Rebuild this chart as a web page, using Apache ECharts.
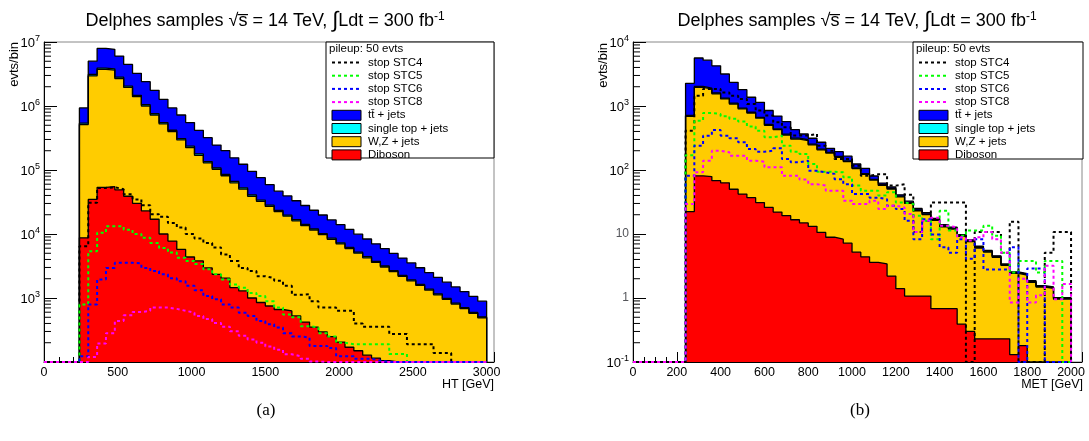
<!DOCTYPE html>
<html><head><meta charset="utf-8">
<script src="https://cdn.jsdelivr.net/npm/echarts@6/dist/echarts.min.js"></script>
<style>html,body{margin:0;padding:0;background:#fff}#c{width:1089px;height:441px}</style>
</head><body><div id="c"></div>
<script>
// ---------- DATA ----------
const htBinWidth = 60;   // GeV, 50 bins 0-3000
const metBinWidth = 40;  // GeV, 50 bins 0-2000

// HT panel (a)
const htDiboson = [0,0,0,0,8700,34700,53700,55000,49000,38900,30200,22900,17000,10000,7760,5750,4370,3800,2950,2340,2040,1450,1290,1000,851,750,661,627,525,420,350,295,250,205,170,150,128,115,105,0,0,0,0,0,0,0,0,0,0,0];
const htWZ = [0,0,0,0,504000,2920000,3670000,3580000,2640000,1910000,1370000,977000,707000,515000,390000,289000,220000,166000,126000,100000,79300,61600,48800,37900,31500,26200,21700,18340,15550,13160,11160,9455,8010,6795,5760,4860,4122,3485,2945,2580,2180,1850,1570,1330,1120,950,805,682,578,490];
const htSingleTop = [0,0,0,0,26000,150000,190000,180000,135000,98000,70000,50000,36000,26000,20000,15000,11000,8500,6400,5100,4000,3200,2500,1900,1600,1300,1100,760,640,540,460,390,330,280,230,195,165,140,115,95,80,65,55,45,38,32,26,22,18,15];
const htTtbar = [0,0,0,0,394000,1910000,4030000,3880000,3200000,2420000,1770000,1350000,1000000,720000,515000,414000,315000,238000,185000,138000,115000,88700,70400,54700,41900,30700,23300,19670,16390,13780,11530,9660,8010,6720,5640,4725,3945,3290,2755,2305,1940,1615,1345,1125,942,788,659,556,464,386];
const htSTC4 = [0,0,0,0,6460,30900,52500,53700,50100,41700,34700,28200,20400,18600,14800,12600,10000,8510,7240,6170,4790,3800,2950,2630,2190,2040,1860,1550,1120,1150,891,708,708,631,631,398,355,355,355,275,275,190,190,190,138,138,0,0,0,0];
const htSTC5 = [0,0,0,0,794,5370,10500,13200,13200,11700,10000,8710,7240,6030,5130,4270,3800,3390,2820,2340,1950,1620,1450,1200,1070,891,708,550,501,363,347,282,251,200,190,190,190,190,190,133,133,0,0,0,0,0,0,0,0,0];
const htSTC6 = [0,0,0,0,123,794,1950,2950,3550,3550,3470,2950,2630,2340,2040,1820,1550,1320,1070,955,794,708,589,525,437,389,347,282,251,240,178,178,165,123,123,112,112,105,0,0,0,0,0,0,0,0,0,0,0,0];
const htSTC8 = [0,0,0,0,0,120,195,282,437,537,603,631,708,708,676,631,589,525,468,407,355,302,257,224,200,174,155,132,123,112,102,0,0,0,0,0,0,0,0,0,0,0,0,0,0,0,0,0,0,0];

// MET panel (b)
const metDiboson = [0,0,0,0,0,0,22.4,81,79,68,63,50,42,37,31,26,22,19.3,16.7,14.9,13.2,10.6,8.9,8.3,7.2,5.2,4.4,3.6,3.4,2.2,1.4,1.07,1.07,1.07,0.68,0.68,0.68,0.39,0.30,0.23,0.23,0.23,0.23,0.13,0.18,0,0,0,0,0];
const metWZ = [0,0,0,0,0,0,668,1879,1771,1482,1227,1025,858,738,614,474,405,333,288,273,233,196,175,150,128,100,81,66,54,48,36.6,29,22,19,15.6,12.3,11.3,8.8,7.3,5.8,5.0,4.1,3.0,2.3,2.1,1.76,1.48,1.42,0.96,0.96];
const metSingleTop = [0,0,0,0,0,0,20,60,55,45,38,32,27,23,19,15,13,11,9,9,7,6,5,5,4,3,2.5,2,1.7,1.5,1.1,0.9,0.7,0.6,0.5,0.4,0.35,0.28,0.23,0.18,0.16,0.13,0.1,0.07,0.07,0.05,0.04,0.04,0.03,0.03];
const metTtbar = [0,0,0,0,0,0,1550,3600,3295,2655,1832,1233,873,572,476,335,255,207,113,68,60,59,29,30,25,16,18.5,9,3.3,2.5,1.9,1.6,1.3,0.9,0.7,0.6,0.45,0.32,0.27,0.22,0.14,0.1,0.08,0.06,0.06,0.05,0.04,0.03,0.02,0.02];
const metSTC4 = [0,0,0,0,0,0,410,1450,1850,1850,1630,1450,1290,1075,850,710,555,465,345,345,365,240,200,148,148,117,81,86,86,57,60,41,10.7,16,31,31,31,31,0,10.7,10.7,10.7,5.1,15.6,0,0,0,5.1,10.7,10.7];
const metSTC5 = [0,0,0,0,0,0,170,590,776,750,690,630,570,480,410,325,344,240,193,178,124,94,94,92,77,57,47.5,47.5,40,45,31,29.5,19.3,16.1,8.3,23,11.3,9.4,11.3,11.3,13.5,9.4,5.1,2.5,3.8,3.8,2.5,3.8,3.8,0];
const metSTC6 = [0,0,0,0,0,0,81,240,344,422,344,313,271,213,193,200,218,148,132,140,97,92,87,72,60,42,42,37,35,27.7,24.5,16.1,8.3,17,9.8,6.2,5.1,8.3,4.1,8.3,2.8,2.8,2.8,6.2,0,2.9,2.9,0,0,0];
const metSTC8 = [0,0,0,0,0,0,29.5,92,140,200,189,167,167,140,135,110,110,81,81,71,60,57,47.5,47.5,33,29.5,29.5,33,24.5,27.7,26,20.5,10.7,16.1,18,13.5,12.7,8.9,7.9,8.9,10.7,8.3,5.1,0.85,2.0,0.85,1.1,3.2,0.96,1.66];

const stackNames = ['tt\u0304 + jets', 'single top + jets', 'W,Z + jets', 'Diboson'];
const stackColors = ['#0000ff', '#00ffff', '#ffcc00', '#ff0000'];
const sigNames = ['stop STC4', 'stop STC5', 'stop STC6', 'stop STC8'];
const sigColors = ['#000000', '#00ff00', '#0000ff', '#ff00ff'];

// ---------- BUILD ----------
const FONT = '"Liberation Sans", Arial, sans-serif';
function edges(n, w) { return Array.from({length: n + 1}, (_, i) => i * w); }
function cumul(layers) { // bottom -> top
  let run = layers[0].map(() => 0); const out = [];
  layers.forEach(l => { run = run.map((v, i) => v + l[i]); out.push(run.slice()); });
  return out;
}
function stepData(ed, vals, ymin) {
  const n = vals.length;
  const d = vals.map((v, i) => [ed[i], Math.max(v, ymin)]);
  d.push([ed[n], Math.max(vals[n - 1], ymin)]);
  d.push([ed[n], ymin]);
  return d;
}
function panelSeries(idx, ed, comps, sigs, ymin, ymax, xmin) {
  const cum = cumul(comps); // cum[0]=diboson ... cum[3]=total
  const series = [];
  const colorByCum = ['#ff0000', '#ffcc00', '#00ffff', '#0000ff'];
  [3, 2, 1, 0].forEach(k => {
    series.push({
      type: 'line', xAxisIndex: idx, yAxisIndex: idx, step: 'end', symbol: 'none',
      data: stepData(ed, cum[k], ymin), clip: true, silent: true,
      lineStyle: {color: '#000', width: 1.3},
      areaStyle: {color: colorByCum[k], opacity: 1, origin: 'start'}
    });
  });
  sigs.forEach((s, j) => {
    series.push({
      type: 'line', xAxisIndex: idx, yAxisIndex: idx, step: 'end', symbol: 'none',
      data: stepData(ed, s, ymin), clip: true, silent: true, z: 3,
      lineStyle: {color: sigColors[j], width: 2, type: [3, 3]}
    });
  });
  const minor = [];
  for (let d = Math.round(Math.log10(ymin)); d < Math.round(Math.log10(ymax)); d++)
    for (let m = 2; m <= 9; m++) minor.push([xmin, m * Math.pow(10, d)]);
  series.push({
    type: 'custom', xAxisIndex: idx, yAxisIndex: idx, silent: true, z: 5,
    data: minor, encode: {x: 0, y: 1},
    renderItem: (p, api) => {
      const c = api.coord([api.value(0), api.value(1)]);
      return {type: 'line', shape: {x1: c[0], y1: c[1], x2: c[0] + 7, y2: c[1]}, style: {stroke: '#000', lineWidth: 1}};
    }
  });
  return series;
}

function logLabel(plain) {
  return v => {
    const e = Math.round(Math.log10(v));
    if (plain && e === 0) return '1';
    if (plain && e === 1) return '10';
    return '{b|10}{s|' + e + '}';
  };
}
const labelRich = {
  b: {fontSize: 13, fontFamily: FONT, color: '#000', verticalAlign: 'bottom'},
  s: {fontSize: 9, fontFamily: FONT, color: '#000', verticalAlign: 'bottom', padding: [0, 0, 7, 0]}
};

function xAxis(gi, max, interval, split) {
  return {
    type: 'value', gridIndex: gi, min: 0, max: max, interval: interval,
    axisLine: {lineStyle: {color: '#000', width: 1}},
    axisTick: {inside: true, length: 10, lineStyle: {color: '#000'}},
    minorTick: {show: true, splitNumber: split, length: 5, lineStyle: {color: '#000'}},
    splitLine: {show: false},
    axisLabel: {color: '#000', fontSize: 12.5, fontFamily: FONT, margin: 4, showMaxLabel: false,
                formatter: v => String(v)}
  };
}
function yAxis(gi, min, max, plain, showMin) {
  return {
    type: 'log', logBase: 10, gridIndex: gi, min: min, max: max,
    axisLine: {lineStyle: {color: '#000', width: 1}},
    axisTick: {inside: true, length: 13, lineStyle: {color: '#000'}},
    splitLine: {show: false},
    axisLabel: {formatter: logLabel(plain), rich: labelRich, margin: 4, showMinLabel: showMin}
  };
}

const htComps = [htDiboson, htWZ, htSingleTop, htTtbar];
const metComps = [metDiboson, metWZ, metSingleTop, metTtbar];

function legend(x0, y0, w, h) {
  const els = [];
  const f = '11.5px ' + FONT;
  els.push({type: 'rect', z: 100, shape: {x: x0, y: y0, width: w, height: h}, style: {fill: '#fff', stroke: '#000', lineWidth: 1}});
  els.push({type: 'text', z: 101, x: x0 + 3, y: y0 + 7, style: {text: 'pileup: 50 evts', font: f, fill: '#000', textAlign: 'left', textVerticalAlign: 'middle'}});
  const rowY = k => y0 + 20.5 + 13.2 * k;
  sigNames.forEach((n, j) => {
    const y = rowY(j);
    els.push({type: 'line', z: 101, shape: {x1: x0 + 6, y1: y, x2: x0 + 35, y2: y}, style: {stroke: sigColors[j], lineWidth: 2, lineDash: [3, 3]}});
    els.push({type: 'text', z: 101, x: x0 + 42, y: y, style: {text: n, font: f, fill: '#000', textAlign: 'left', textVerticalAlign: 'middle'}});
  });
  stackNames.forEach((n, j) => {
    const y = rowY(4 + j);
    els.push({type: 'rect', z: 101, shape: {x: x0 + 6, y: y - 5, width: 29, height: 10}, style: {fill: stackColors[j], stroke: '#000', lineWidth: 1}});
    els.push({type: 'text', z: 101, x: x0 + 42, y: y, style: {text: n, font: f, fill: '#000', textAlign: 'left', textVerticalAlign: 'middle'}});
  });
  return els;
}
function title(cx) {
  return {type: 'text', z: 101, x: cx, y: 21, style: {
    text: '{n|Delphes samples \u221As\u0305 = 14 TeV, }{i|\u222B}{n|Ldt = 300 fb}{s|-1}',
    textAlign: 'center', textVerticalAlign: 'middle', fill: '#000',
    rich: {n: {fontSize: 18, fontFamily: FONT, fill: '#000'}, i: {fontSize: 22, fontFamily: FONT, fill: '#000'},
           s: {fontSize: 12, fontFamily: FONT, fill: '#000', verticalAlign: 'bottom', padding: [0, 0, 9, 0]}}
  }};
}
function vtext(x, y, t) {
  return {type: 'text', z: 101, x: x, y: y, rotation: Math.PI / 2, style: {text: t, font: '13px ' + FONT, fill: '#000', textAlign: 'right', textVerticalAlign: 'middle'}};
}
function htext(x, y, t, align, font) {
  return {type: 'text', z: 101, x: x, y: y, style: {text: t, font: font, fill: '#000', textAlign: align, textVerticalAlign: 'middle'}};
}

const option = {
  animation: false,
  backgroundColor: '#fff',
  grid: [
    {left: 44, top: 42, width: 450, height: 320, show: true, borderColor: '#888', borderWidth: 1, containLabel: false},
    {left: 633, top: 42, width: 449, height: 320, show: true, borderColor: '#888', borderWidth: 1, containLabel: false}
  ],
  xAxis: [xAxis(0, 3050, 500, 5), xAxis(1, 2050, 200, 4)],
  yAxis: [yAxis(0, 100, 1e7, false, false), yAxis(1, 0.1, 1e4, true, true)],
  series: [].concat(
    panelSeries(0, edges(50, htBinWidth), htComps, [htSTC4, htSTC5, htSTC6, htSTC8], 100, 1e7, 0),
    panelSeries(1, edges(50, metBinWidth), metComps, [metSTC4, metSTC5, metSTC6, metSTC8], 0.1, 1e4, 0)
  ),
  graphic: [].concat(
    legend(326, 42, 168, 116),
    legend(913, 42, 170, 117),
    [title(265), title(857),
     vtext(14, 42, 'evts/bin'), vtext(603, 43, 'evts/bin'),
     htext(494, 385, 'HT [GeV]', 'right', '12.5px ' + FONT),
     htext(1083, 385, 'MET [GeV]', 'right', '12.5px ' + FONT),
     htext(266, 411, '(a)', 'center', '17px "Liberation Serif", "DejaVu Serif", serif'),
     htext(860, 411, '(b)', 'center', '17px "Liberation Serif", "DejaVu Serif", serif')]
  )
};
const chart = echarts.init(document.getElementById('c'), null, {renderer: 'canvas'});
chart.setOption(option);
</script>
</body></html>
